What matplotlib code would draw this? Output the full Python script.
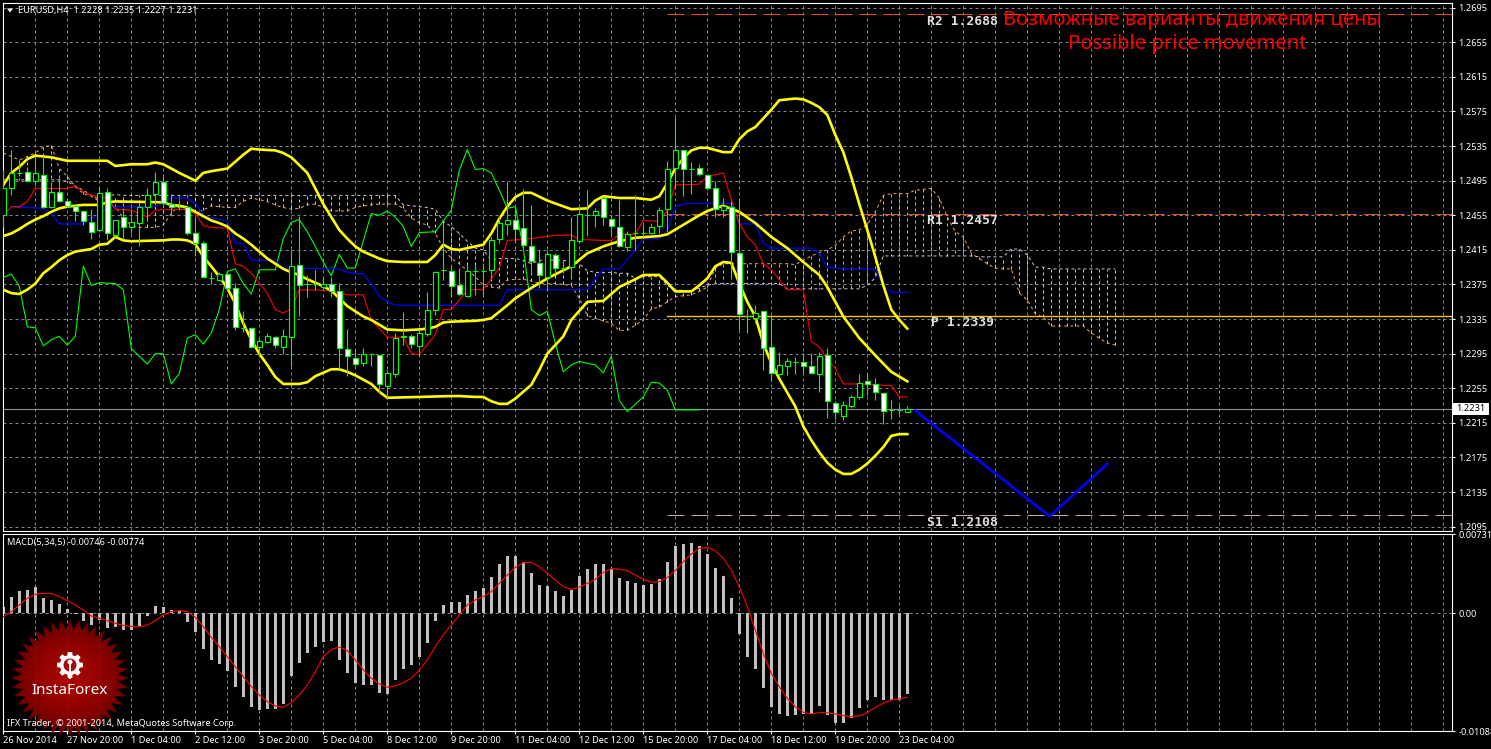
import numpy as np
import matplotlib
matplotlib.use("Agg")
import matplotlib.pyplot as plt
from matplotlib.patches import Polygon, Rectangle, Circle

W, H = 1491, 749
plt.rcParams['font.family'] = ['Noto Sans', 'DejaVu Sans']

# bar, open, high, low, close
candles = [
 (1.2455,1.2507,1.2442,1.2486),(1.2487,1.2531,1.2478,1.2504),(1.2504,1.2517,1.2500,1.2504),(1.2505,1.2511,1.2494,1.2495),
 (1.2495,1.2523,1.2490,1.2504),(1.2502,1.2523,1.2463,1.2464),(1.2465,1.2494,1.2463,1.2482),(1.2482,1.2498,1.2470,1.2472),
 (1.2472,1.2472,1.2465,1.2466),(1.2466,1.2467,1.2448,1.2460),(1.2460,1.2461,1.2444,1.2448),(1.2447,1.2462,1.2428,1.2436),
 (1.2438,1.2488,1.2436,1.2481),(1.2482,1.2486,1.2426,1.2434),(1.2432,1.2450,1.2430,1.2450),(1.2453,1.2463,1.2428,1.2442),
 (1.2442,1.2461,1.2435,1.2447),(1.2446,1.2469,1.2419,1.2464),(1.2464,1.2486,1.2450,1.2478),(1.2480,1.2505,1.2467,1.2494),
 (1.2493,1.2500,1.2465,1.2469),(1.2468,1.2480,1.2454,1.2464),(1.2464,1.2473,1.2461,1.2464),(1.2464,1.2464,1.2432,1.2435),
 (1.2434,1.2452,1.2408,1.2423),(1.2423,1.2425,1.2382,1.2384),(1.2383,1.2390,1.2376,1.2383),(1.2380,1.2390,1.2379,1.2387),
 (1.2387,1.2389,1.2369,1.2371),(1.2371,1.2377,1.2322,1.2326),(1.2325,1.2344,1.2320,1.2325),(1.2325,1.2326,1.2302,1.2303),
 (1.2303,1.2312,1.2292,1.2310),(1.2309,1.2319,1.2307,1.2315),(1.2314,1.2315,1.2301,1.2305),(1.2303,1.2324,1.2295,1.2315),
 (1.2314,1.2415,1.2281,1.2396),(1.2397,1.2454,1.2339,1.2374),(1.2376,1.2386,1.2360,1.2376),(1.2376,1.2392,1.2369,1.2375),
 (1.2372,1.2384,1.2369,1.2376),(1.2376,1.2384,1.2360,1.2368),(1.2367,1.2377,1.2277,1.2301),(1.2300,1.2323,1.2269,1.2292),
 (1.2290,1.2299,1.2281,1.2283),(1.2284,1.2302,1.2281,1.2295),(1.2295,1.2295,1.2281,1.2295),(1.2293,1.2294,1.2249,1.2260),
 (1.2258,1.2276,1.2243,1.2273),(1.2272,1.2319,1.2268,1.2313),(1.2314,1.2343,1.2305,1.2316),(1.2315,1.2318,1.2302,1.2306),
 (1.2304,1.2322,1.2292,1.2319),(1.2318,1.2366,1.2315,1.2345),(1.2346,1.2391,1.2340,1.2390),(1.2392,1.2446,1.2380,1.2392),
 (1.2391,1.2396,1.2362,1.2373),(1.2374,1.2394,1.2362,1.2364),(1.2362,1.2398,1.2361,1.2391),(1.2391,1.2399,1.2363,1.2391),
 (1.2391,1.2400,1.2363,1.2391),(1.2392,1.2430,1.2382,1.2426),(1.2428,1.2454,1.2423,1.2446),(1.2445,1.2494,1.2432,1.2450),
 (1.2450,1.2465,1.2423,1.2439),(1.2440,1.2485,1.2416,1.2421),(1.2420,1.2467,1.2388,1.2402),(1.2400,1.2415,1.2371,1.2386),
 (1.2384,1.2415,1.2367,1.2410),(1.2409,1.2411,1.2388,1.2394),(1.2394,1.2403,1.2388,1.2394),(1.2395,1.2453,1.2383,1.2426),
 (1.2425,1.2465,1.2423,1.2457),(1.2455,1.2484,1.2431,1.2455),(1.2455,1.2463,1.2442,1.2460),(1.2475,1.2477,1.2444,1.2453),
 (1.2451,1.2455,1.2432,1.2443),(1.2442,1.2473,1.2418,1.2420),(1.2418,1.2437,1.2414,1.2433),(1.2435,1.2478,1.2415,1.2435),
 (1.2435,1.2444,1.2430,1.2435),(1.2435,1.2446,1.2433,1.2442),(1.2443,1.2464,1.2435,1.2461),(1.2462,1.2518,1.2436,1.2509),
 (1.2510,1.2569,1.2486,1.2531),(1.2530,1.2531,1.2477,1.2508),(1.2508,1.2517,1.2480,1.2508),(1.2510,1.2514,1.2500,1.2503),
 (1.2502,1.2503,1.2484,1.2486),(1.2487,1.2495,1.2453,1.2462),(1.2461,1.2475,1.2453,1.2466),(1.2465,1.2472,1.2382,1.2412),
 (1.2411,1.2473,1.2322,1.2341),(1.2339,1.2347,1.2319,1.2339),(1.2336,1.2351,1.2330,1.2342),(1.2344,1.2344,1.2276,1.2302),
 (1.2303,1.2340,1.2263,1.2273),(1.2272,1.2297,1.2270,1.2282),(1.2281,1.2290,1.2270,1.2286),(1.2285,1.2291,1.2272,1.2285),
 (1.2285,1.2296,1.2272,1.2281),(1.2281,1.2296,1.2272,1.2273),(1.2272,1.2297,1.2251,1.2292),(1.2293,1.2301,1.2221,1.2240),
 (1.2238,1.2240,1.2220,1.2227),(1.2223,1.2240,1.2218,1.2236),(1.2235,1.2247,1.2232,1.2245),(1.2245,1.2272,1.2243,1.2261),
 (1.2263,1.2272,1.2247,1.2260),(1.2260,1.2267,1.2241,1.2251),(1.2250,1.2251,1.2214,1.2229),(1.2230,1.2241,1.2219,1.2230),
 (1.2230,1.2236,1.2225,1.2230),(1.2228,1.2235,1.2227,1.2231),
]

# bollinger bands and ichimoku lines, (bar, price) at the corners
upper_band = [(0,1.2490),(1,1.2504),(2,1.2511),(3,1.2520),(4,1.2524),(6,1.2522),(8,1.2518),(13,1.2518),(14,1.2512),(16,1.2514),
 (18,1.2514),(19,1.2516),(20,1.2514),(22,1.2504),(24,1.2495),(25,1.2504),(26,1.2506),(28,1.2509),(29,1.2517),(30,1.2525),(31,1.2532),
 (32,1.2531),(34,1.2530),(35,1.2527),(36,1.2522),(37,1.2513),(38,1.2504),(39,1.2486),(40,1.2468),(41,1.2453),(42,1.2438),(43,1.2428),
 (44,1.2419),(45,1.2413),(47,1.2405),(48,1.2402),(50,1.2401),(53,1.2401),(54,1.2409),(55,1.2421),(56,1.2416),(57,1.2415),(58,1.2417),
 (59,1.2419),(60,1.2421),(61,1.2434),(62,1.2451),(63,1.2465),(64,1.2476),(65,1.2481),(66,1.2481),(68,1.2472),(71,1.2462),(73,1.2463),
 (74,1.2472),(75,1.2477),(77,1.2475),(79,1.2475),(81,1.2473),(82,1.2477),(83,1.2492),(84,1.2509),(85,1.2521),(86,1.2530),(87,1.2533),
 (88,1.2533),(90,1.2528),(91,1.2528),(92,1.2543),(93,1.2552),(94,1.2557),(95,1.2567),(96,1.2577),(97,1.2588),(98,1.2589),(99,1.2590),
 (100,1.2589),(101,1.2585),(102,1.2580),(103,1.2571),(104,1.2548),(105,1.2528),(106,1.2499),(107,1.2468),(108,1.2438),(109,1.2407),
 (110,1.2374),(111,1.2346),(112,1.2334),(113,1.2324)]
middle_band = [(0,1.2431),(1,1.2434),(2,1.2439),(3,1.2445),(4,1.2450),(5,1.2454),(6,1.2459),(7,1.2463),(8,1.2465),(10,1.2467),(12,1.2467),
 (13,1.2470),(14,1.2471),(20,1.2470),(21,1.2467),(22,1.2466),(23,1.2464),(24,1.2459),(25,1.2454),(26,1.2449),(27,1.2446),(28,1.2442),
 (29,1.2434),(30,1.2428),(31,1.2421),(32,1.2413),(33,1.2405),(34,1.2399),(35,1.2393),(36,1.2389),(37,1.2386),(38,1.2381),(39,1.2377),
 (40,1.2373),(41,1.2368),(42,1.2359),(43,1.2350),(44,1.2344),(45,1.2338),(46,1.2334),(48,1.2323),(50,1.2322),(52,1.2323),(53,1.2324),
 (54,1.2326),(55,1.2331),(56,1.2332),(59,1.2333),(60,1.2334),(61,1.2336),(63,1.2351),(64,1.2359),(66,1.2371),(68,1.2382),(71,1.2396),
 (73,1.2411),(75,1.2419),(77,1.2425),(79,1.2429),(82,1.2431),(83,1.2433),(85,1.2444),(87,1.2455),(88,1.2460),(90,1.2466),(92,1.2459),
 (94,1.2446),(96,1.2430),(98,1.2417),(100,1.2401),(102,1.2386),(103,1.2372),(105,1.2338),(107,1.2313),(109,1.2293),(111,1.2274),(113,1.2263)]
lower_band = [(0,1.2369),(1,1.2365),(2,1.2364),(3,1.2369),(4,1.2376),(5,1.2388),(6,1.2395),(7,1.2403),(8,1.2409),(9,1.2413),(11,1.2416),
 (12,1.2421),(13,1.2422),(14,1.2430),(15,1.2426),(16,1.2425),(20,1.2426),(21,1.2427),(22,1.2427),(23,1.2426),(24,1.2422),(25,1.2407),
 (26,1.2396),(27,1.2384),(28,1.2371),(29,1.2353),(30,1.2330),(31,1.2311),(32,1.2295),(33,1.2282),(34,1.2268),(35,1.2260),(37,1.2260),
 (38,1.2262),(39,1.2269),(40,1.2273),(41,1.2277),(42,1.2277),(43,1.2274),(44,1.2270),(46,1.2260),(47,1.2251),(48,1.2244),(52,1.2245),
 (56,1.2246),(57,1.2246),(59,1.2245),(60,1.2245),(61,1.2240),(62,1.2237),(63,1.2237),(64,1.2243),(66,1.2259),(67,1.2276),(68,1.2295),
 (70,1.2315),(71,1.2334),(73,1.2355),(75,1.2356),(77,1.2372),(79,1.2381),(80,1.2386),(82,1.2386),(83,1.2377),(84,1.2367),(86,1.2367),
 (87,1.2374),(88,1.2382),(89,1.2396),(90,1.2401),(91,1.2400),(92,1.2376),(93,1.2355),(94,1.2338),(95,1.2307),(96,1.2284),(97,1.2266),
 (99,1.2234),(100,1.2211),(101,1.2195),(102,1.2181),(103,1.2169),(104,1.2161),(105,1.2156),(106,1.2156),(107,1.2161),(108,1.2168),
 (109,1.2177),(110,1.2187),(111,1.2200),(112,1.2202),(113,1.2202)]
tenkan = [(0,1.2455),(1,1.2465),(2,1.2465),(3,1.2471),(4,1.2486),(8,1.2486),(9,1.2489),(10,1.2482),(11,1.2478),(13,1.2475),(14,1.2462),
 (16,1.2461),(18,1.2453),(19,1.2461),(22,1.2462),(23,1.2461),(24,1.2457),(25,1.2443),(26,1.2441),(28,1.2440),(29,1.2399),(30,1.2396),
 (31,1.2388),(33,1.2365),(34,1.2346),(35,1.2342),(36,1.2347),(37,1.2369),(41,1.2368),(43,1.2363),(45,1.2363),(46,1.2334),(48,1.2314),
 (50,1.2314),(51,1.2295),(52,1.2294),(54,1.2317),(55,1.2346),(56,1.2346),(57,1.2357),(58,1.2369),(60,1.2369),(62,1.2394),(63,1.2426),
 (65,1.2427),(66,1.2428),(69,1.2432),(71,1.2432),(72,1.2427),(75,1.2426),(76,1.2426),(77,1.2433),(79,1.2433),(80,1.2449),(82,1.2448),
 (83,1.2461),(84,1.2490),(87,1.2491),(88,1.2500),(90,1.2504),(91,1.2473),(92,1.2446),(93,1.2430),(94,1.2421),(95,1.2399),(96,1.2392),
 (98,1.2369),(100,1.2369),(101,1.2309),(102,1.2303),(103,1.2288),(104,1.2278),(105,1.2260),(107,1.2260),(109,1.2259),(111,1.2258),
 (112,1.2245),(113,1.2245)]
kijun = [(1,1.2465),(5,1.2463),(6,1.2457),(7,1.2445),(10,1.2445),(11,1.2452),(12,1.2455),(13,1.2465),(19,1.2465),(20,1.2470),(21,1.2475),
 (23,1.2475),(24,1.2469),(25,1.2455),(26,1.2452),(28,1.2448),(29,1.2423),(30,1.2422),(31,1.2403),(34,1.2403),(35,1.2394),(42,1.2393),
 (43,1.2389),(45,1.2387),(46,1.2376),(47,1.2361),(48,1.2355),(49,1.2351),(62,1.2351),(63,1.2369),(73,1.2369),(75,1.2393),(77,1.2393),
 (79,1.2415),(80,1.2428),(82,1.2428),(83,1.2438),(84,1.2465),(85,1.2468),(86,1.2469),(91,1.2469),(92,1.2445),(94,1.2445),(95,1.2423),
 (96,1.2417),(101,1.2417),(102,1.2411),(103,1.2395),(105,1.2393),(109,1.2393),(110,1.2374),(111,1.2366),(113,1.2366)]
chikou = [(0,1.2383),(1,1.2387),(2,1.2373),(3,1.2326),(4,1.2325),(5,1.2304),(6,1.2311),(7,1.2315),(8,1.2305),(9,1.2315),(10,1.2396),
 (11,1.2374),(12,1.2377),(14,1.2376),(15,1.2369),(16,1.2301),(18,1.2283),(19,1.2295),(20,1.2295),(21,1.2260),(22,1.2272),(23,1.2313),
 (24,1.2317),(25,1.2306),(26,1.2319),(27,1.2346),(28,1.2390),(29,1.2393),(30,1.2376),(31,1.2364),(32,1.2392),(34,1.2392),(35,1.2428),
 (36,1.2447),(37,1.2450),(38,1.2436),(39,1.2419),(40,1.2401),(41,1.2385),(42,1.2410),(43,1.2394),(44,1.2394),(46,1.2457),(47,1.2455),
 (48,1.2460),(49,1.2453),(50,1.2442),(51,1.2419),(52,1.2435),(54,1.2436),(56,1.2461),(57,1.2507),(58,1.2531),(59,1.2508),(60,1.2509),
 (61,1.2504),(62,1.2484),(63,1.2463),(64,1.2465),(65,1.2417),(66,1.2346),(67,1.2339),(68,1.2344),(69,1.2307),(70,1.2274),(71,1.2282),
 (72,1.2286),(74,1.2282),(75,1.2273),(76,1.2292),(77,1.2241),(78,1.2228),(80,1.2245),(81,1.2262),(82,1.2261),(83,1.2253),(84,1.2230),(87,1.2230)]

# ichimoku cloud, one value per bar, runs 26 bars past the last candle
span_a = [
 1.2527,1.2523,1.2519,1.2523,1.2527,1.2534,1.2536,1.2509,1.2500,1.2488,1.2480,1.2477,1.2471,1.2467,1.2465,1.2452,1.2443,1.2441,1.2441,1.2441,
 1.2444,1.2457,1.2467,1.2461,1.2459,1.2461,1.2466,1.2465,1.2464,1.2464,1.2471,1.2475,1.2473,1.2471,1.2467,1.2464,1.2462,1.2463,1.2467,1.2468,
 1.2464,1.2460,1.2460,1.2460,1.2464,1.2466,1.2467,1.2468,1.2468,1.2468,1.2463,1.2452,1.2446,1.2444,1.2434,1.2417,1.2405,1.2399,1.2391,1.2384,
 1.2374,1.2372,1.2371,1.2380,1.2381,1.2381,1.2379,1.2376,1.2376,1.2376,1.2375,1.2374,1.2359,1.2339,1.2336,1.2333,1.2330,1.2322,1.2322,1.2328,
 1.2334,1.2347,1.2349,1.2355,1.2361,1.2362,1.2363,1.2367,1.2372,1.2394,1.2399,1.2399,1.2399,1.2399,1.2399,1.2399,1.2399,1.2399,1.2399,1.2398,
 1.2403,1.2408,1.2412,1.2415,1.2420,1.2430,1.2437,1.2438,1.2444,1.2459,1.2478,1.2480,1.2480,1.2480,1.2484,1.2485,1.2486,1.2475,1.2453,1.2436,
 1.2430,1.2411,1.2405,1.2399,1.2394,1.2393,1.2393,1.2365,1.2357,1.2341,1.2337,1.2327,1.2327,1.2327,1.2327,1.2327,1.2319,1.2313,1.2307,1.2305,
]
span_b = [
 1.2496,1.2496,1.2496,1.2496,1.2496,1.2496,1.2496,1.2496,1.2494,1.2489,1.2484,1.2478,1.2473,1.2477,1.2479,1.2478,1.2478,1.2478,1.2478,1.2478,
 1.2478,1.2478,1.2478,1.2478,1.2478,1.2478,1.2478,1.2478,1.2478,1.2478,1.2478,1.2478,1.2478,1.2478,1.2478,1.2478,1.2478,1.2478,1.2478,1.2478,
 1.2478,1.2478,1.2478,1.2478,1.2478,1.2478,1.2478,1.2478,1.2478,1.2478,1.2467,1.2466,1.2465,1.2464,1.2462,1.2448,1.2442,1.2434,1.2425,1.2417,
 1.2415,1.2403,1.2405,1.2405,1.2405,1.2403,1.2399,1.2403,1.2403,1.2403,1.2403,1.2401,1.2399,1.2391,1.2389,1.2389,1.2389,1.2388,1.2388,1.2382,
 1.2384,1.2384,1.2384,1.2374,1.2369,1.2368,1.2367,1.2371,1.2374,1.2376,1.2376,1.2376,1.2376,1.2376,1.2376,1.2376,1.2376,1.2376,1.2370,1.2370,
 1.2370,1.2370,1.2370,1.2370,1.2370,1.2370,1.2370,1.2370,1.2374,1.2383,1.2408,1.2408,1.2408,1.2408,1.2408,1.2408,1.2408,1.2408,1.2408,1.2408,
 1.2408,1.2408,1.2407,1.2407,1.2407,1.2407,1.2416,1.2416,1.2409,1.2395,1.2395,1.2393,1.2393,1.2393,1.2393,1.2393,1.2393,1.2393,1.2393,1.2393,
]

# macd panel
macd_hist = [
 58,150,209,215,246,141,123,86,43,-6,-71,-107,-61,-138,-129,-154,-154,-114,-25,68,55,31,21,-77,-169,-328,-430,-467,-531,-675,
 -768,-860,-890,-881,-881,-838,-577,-454,-368,-307,-261,-252,-430,-546,-645,-660,-660,-737,-743,-614,-513,-476,-399,-270,-71,77,104,104,169,206,
 233,335,454,528,528,473,371,261,252,206,160,215,344,408,454,454,408,325,298,279,261,270,316,473,620,639,648,620,546,418,
 344,141,-193,-402,-513,-688,-863,-927,-946,-936,-927,-927,-853,-936,-1013,-1007,-967,-869,-798,-771,-798,-798,-798,-746]
macd_signal = [
 -31,15,77,138,175,184,184,154,117,77,31,-25,-46,-68,-92,-111,-120,-126,-108,-68,-15,15,25,15,-37,-123,-221,-307,-399,-492,
 -584,-676,-753,-814,-854,-867,-824,-753,-661,-538,-399,-332,-313,-344,-430,-522,-599,-651,-682,-670,-639,-599,-522,-430,-307,-200,-108,-15,77,123,
 154,200,277,353,424,467,470,430,369,307,246,221,240,277,313,375,412,406,393,353,313,286,292,329,393,476,547,599,608,578,
 507,399,246,61,-154,-369,-553,-676,-784,-860,-913,-928,-916,-916,-928,-943,-953,-946,-916,-867,-830,-799,-790,-774]

# forecast line and pivot levels
forecast_bars = [114, 130.8, 138]
forecast_prices = [1.2229, 1.2107, 1.21675]
pivot_names = ["R2 1.2688", "R1 1.2457", "P 1.2339", "S1 1.2108"]
pivot_levels = [1.2688, 1.2457, 1.2339, 1.2108]
last_price = 1.2231

price_ticks = [1.2695,1.2655,1.2615,1.2575,1.2535,1.2495,1.2455,1.2415,1.2375,1.2335,1.2295,1.2255,1.2215,1.2175,1.2135,1.2095]
time_labels = ["26 Nov 2014","27 Nov 20:00","1 Dec 04:00","2 Dec 12:00","3 Dec 20:00","5 Dec 04:00","8 Dec 12:00","9 Dec 20:00",
               "11 Dec 04:00","12 Dec 12:00","15 Dec 20:00","17 Dec 04:00","18 Dec 12:00","19 Dec 20:00","23 Dec 04:00"]

GRID = '#778899'
LIME = '#00ff00'
DASH = (0, (3, 3))
FONT = 6.6


def panel(x0, y0, x1, y1):
    a = fig.add_axes([x0 / W, 1 - y1 / H, (x1 - x0) / W, (y1 - y0) / H], facecolor='black')
    for s in a.spines.values():
        s.set_color('white')
        s.set_linewidth(0.8)
    return a


fig = plt.figure(figsize=(W / 100, H / 100), dpi=100, facecolor='black')

ax = panel(2.5, 2.5, 1451.7, 531)
sub = panel(2.5, 533.5, 1451.7, 731.3)

xlim = (-0.1, 181.05)
for a in (ax, sub):
    a.set_xlim(xlim)
    a.set_xticks(np.arange(0, 8 * len(time_labels), 8))
    a.set_xticks(np.arange(4, 181, 4), minor=True)
    a.tick_params(axis='x', which='minor', length=0)
    a.tick_params(axis='x', which='major', length=2, width=0.8, color='white', labelcolor='white', labelsize=FONT, pad=1.5)
    a.tick_params(axis='y', which='major', length=2, width=0.8, color='white', labelcolor='white', labelsize=FONT, pad=3,
                  left=False, labelleft=False, right=True, labelright=True)
    a.grid(which='both', axis='x', color=GRID, lw=0.72, ls=DASH, zorder=0)
    a.set_axisbelow(True)

# price panel
ax.set_ylim(1.2090, 1.2701)
ax.set_yticks(price_ticks)
ax.set_yticklabels([f"{p:.4f}" for p in price_ticks])
ax.grid(axis='y', color=GRID, lw=0.72, ls=DASH)
ax.tick_params(axis='x', which='major', bottom=False, labelbottom=False)

# cloud
bars_cloud = np.arange(len(span_a))
a_vals = np.array(span_a)
b_vals = np.array(span_b)
SANDY, THISTLE = '#f4a460', '#d8bfd8'
hatch_cols = [SANDY if p > q else THISTLE for p, q in zip(a_vals, b_vals)]
ax.vlines(bars_cloud, a_vals, b_vals, colors=hatch_cols, lw=0.72, linestyles=[DASH], zorder=1)
ax.plot(bars_cloud, a_vals, color=SANDY, lw=0.72, ls=DASH, zorder=1)
ax.plot(bars_cloud, b_vals, color=THISTLE, lw=0.72, ls=DASH, zorder=1)

# pivots
pivot_cols = ['#f0501e', '#f0501e', '#ffc000', '#c8a89c']
for name, lev, col in zip(pivot_names, pivot_levels, pivot_cols):
    if name.startswith('P'):
        ax.plot([83, xlim[1]], [lev, lev], color=col, lw=1.0, zorder=2)
    else:
        ax.plot([83, xlim[1]], [lev, lev], color=col, lw=0.72, ls=(0, (17, 7)), zorder=2)
ax.axhline(last_price, color='#8a929a', lw=0.8, zorder=2)

for series, col, lw in [(chikou, LIME, 0.8), (kijun, '#0000ff', 0.9), (tenkan, '#ff0000', 0.8),
                        (upper_band, '#ffff00', 1.9), (middle_band, '#ffff00', 1.9), (lower_band, '#ffff00', 1.9)]:
    pts = np.array(series)
    ax.plot(pts[:, 0], pts[:, 1], color=col, lw=lw, zorder=3)

ax.plot(forecast_bars, forecast_prices, color='#0000ff', lw=1.9, zorder=3)

# candles sit on top of the indicators
ohlc = np.array(candles)
bars = np.arange(len(ohlc))
ax.vlines(bars, ohlc[:, 2], ohlc[:, 1], color=LIME, lw=0.8, zorder=4)
bear = ohlc[:, 3] < ohlc[:, 0]
body_low = np.minimum(ohlc[:, 0], ohlc[:, 3])
body_h = np.abs(ohlc[:, 3] - ohlc[:, 0])
ax.bar(bars[bear], body_h[bear], 0.62, bottom=body_low[bear], facecolor='white', edgecolor=LIME, lw=0.8, zorder=5)
ax.bar(bars[~bear], body_h[~bear], 0.62, bottom=body_low[~bear], facecolor='black', edgecolor=LIME, lw=0.8, zorder=5)

# macd
sub.set_ylim(-0.01088, 0.00736)
sub.set_yticks([0.00731, 0.0, -0.01088])
sub.set_yticklabels(["0.00731", "0.00", "-0.01088"])
sub.axhline(0, color=GRID, lw=0.72, ls=DASH, zorder=1)
sub.bar(bars, np.array(macd_hist) * 1e-5, 0.42, color='#c0c0c0', zorder=2)
sub.plot(bars, np.array(macd_signal) * 1e-5, color='#ff0000', lw=0.8, zorder=3)
sub.set_xticklabels(time_labels, ha='left')

# overlay in pixel coordinates for the logo and the chart captions
top = fig.add_axes([0, 0, 1, 1], facecolor='none')
top.set_axis_off()

cx, cy, r_out, r_in = 70, 678, 59, 48
n_spikes = 40
ang = np.linspace(0, 2 * np.pi, 2 * n_spikes, endpoint=False)
rad = np.where(np.arange(2 * n_spikes) % 2 == 0, r_out, r_in)
star = Polygon(np.c_[cx + rad * np.sin(ang), cy - rad * np.cos(ang)], closed=True, transform=top.transData, fc='none', ec='none')
top.add_patch(star)
gx, gy = np.meshgrid(np.linspace(-1, 1, 240), np.linspace(-1, 1, 240))
dist = np.clip(np.hypot(gx, gy * 1.05 + 0.02), 0, 1)
rgba = np.zeros((240, 240, 4))
rgba[..., 0] = (190 - 70 * dist ** 1.5) / 255
rgba[..., 1] = (8 - 8 * dist) / 255
rgba[..., 3] = 0.9
im = top.imshow(rgba, extent=(cx - r_out, cx + r_out, cy + r_out, cy - r_out), aspect='auto', zorder=6)
im.set_clip_path(star)
top.set_xlim(0, W)
top.set_ylim(H, 0)

# gear icon
gear_cx, gear_cy = 70, 665
t = np.linspace(0, 2 * np.pi, 73)[:-1]
gear_r = np.where((t * 8 / (2 * np.pi) + 0.25) % 1 < 0.5, 13, 10)
top.add_patch(Polygon(np.c_[gear_cx + gear_r * np.cos(t), gear_cy + gear_r * np.sin(t)], closed=True, fc='white', ec='none', zorder=7))
top.add_patch(Circle((gear_cx, gear_cy), 6.5, fc='#b00404', ec='none', zorder=8))
top.add_patch(Circle((gear_cx, gear_cy - 3), 2.5, fc='white', ec='none', zorder=9))
top.add_patch(Rectangle((gear_cx - 1.3, gear_cy - 2), 2.6, 16, fc='white', ec='none', zorder=9))
top.text(70, 691, "InstaForex", color='white', fontsize=11, ha='center', va='center', zorder=9)

# header and footer text
top.add_patch(Polygon([(7, 8.5), (13, 8.5), (10, 12.5)], closed=True, fc='white', ec='none', zorder=9))
top.text(18, 10.5, "EURUSD,H4  1.2228 1.2235 1.2227 1.2231", color='white', fontsize=FONT, va='center', zorder=9)
top.text(7, 542, "MACD(5,34,5) -0.00746 -0.00774", color='white', fontsize=FONT, va='center', zorder=9)
top.text(7, 723, "IFX Trader, \u00a9 2001-2014, MetaQuotes Software Corp.", color='white', fontsize=FONT, va='center', zorder=9)

# pivot captions
for name, x, y in zip(pivot_names, [927, 927, 931, 927], [21.5, 220, 323, 522]):
    top.text(x, y, name, color='#e0e0e0', family='DejaVu Sans Mono', weight='bold', fontsize=9.4, va='center', zorder=9)

top.text(1192, 19.5, "\u0412\u043e\u0437\u043c\u043e\u0436\u043d\u044b\u0435 \u0432\u0430\u0440\u0438\u0430\u043d\u0442\u044b \u0434\u0432\u0438\u0436\u0435\u043d\u0438\u044f \u0446\u0435\u043d\u044b",
         color='#ff0000', fontsize=14.5, ha='center', va='center', zorder=9)
top.text(1187, 43.5, "Possible price movement", color='#ff0000', fontsize=14.5, ha='center', va='center', zorder=9)

# last price marker
top.add_patch(Rectangle((1453, 403), 35.5, 11.5, fc='white', ec='none', zorder=9))
top.text(1471, 408.8, f"{last_price:.4f}", color='black', fontsize=FONT, ha='center', va='center', zorder=10)

fig.savefig("out.png", dpi=100, facecolor='black')
